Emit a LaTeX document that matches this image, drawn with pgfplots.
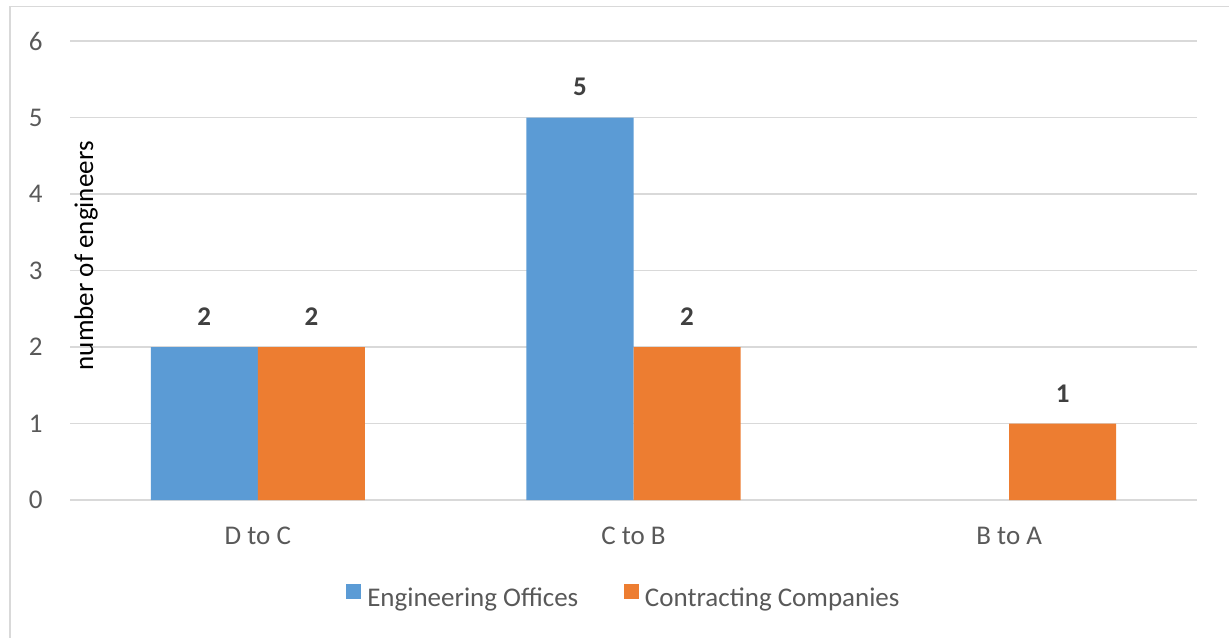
\documentclass[border=0pt]{standalone}
\usepackage{fontspec}
\setmainfont{Carlito}
\usepackage{pgfplots}
\pgfplotsset{compat=1.18}
\definecolor{cblue}{HTML}{5B9BD5}
\definecolor{corange}{HTML}{ED7D31}
\definecolor{tgray}{HTML}{595959}
\definecolor{lgray}{HTML}{D9D9D9}
\definecolor{dlab}{HTML}{404040}
\begin{document}
\begin{tikzpicture}
\useasboundingbox (-35pt,-68.5pt) rectangle (579.5pt,250pt);
\begin{axis}[
 at={(0,0)}, anchor=south west,
 scale only axis, width=563.5pt, height=229.5pt,
 ybar=0pt, bar width=0.285,
 xmin=-0.5, xmax=2.5, ymin=0, ymax=6,
 xtick={0,1,2}, xticklabels={D to C, C to B, B to A},
 ytick={0,1,2,3,4,5,6},
 axis line style={draw=none},
 major tick length=0pt,
 ymajorgrids, grid style={lgray, line width=0.75pt},
 /pgf/number format/assume math mode=true,
 tick label style={font=\fontsize{13.5}{16}\selectfont, text=tgray, inner sep=0pt},
 yticklabel style={anchor=east, xshift=-13.5pt},
 xticklabel style={anchor=north, yshift=-13.35pt},
 every axis y label/.style={at={(axis description cs:0.0142,0.532)}, rotate=90, anchor=center, font=\fontsize{13.5}{16}\selectfont},
 ylabel={number of engineers},
 nodes near coords,
 every node near coord/.append style={font=\bfseries\fontsize{13.5}{16}\selectfont, text=dlab, anchor=south, inner sep=0pt, yshift=10.5pt},
 legend columns=2,
 legend style={at={(axis description cs:0.4906,-0.2102)}, anchor=center, draw=none, fill=none, inner sep=0pt,
   nodes={inner sep=0pt, anchor=west, font=\fontsize{13.5}{16}\selectfont, text=tgray},
   /tikz/every odd column/.append style={column sep=3pt},
   /tikz/every even column/.append style={column sep=22.85pt}},
 legend image code/.code={\fill[#1] (0pt,0pt) rectangle (7.5pt,7.5pt);},
]
\addplot[fill=cblue, draw=none] coordinates {(0,2) (1,5)};
\addlegendentry{Engineering Offices}
\addplot[fill=corange, draw=none] coordinates {(0,2) (1,2) (2,1)};
\addlegendentry{Contracting Companies}
\end{axis}
\draw[lgray, line width=0.75pt] (-30pt,-70pt) -- (-30pt,246.65pt) -- (582pt,246.65pt);
\end{tikzpicture}
\end{document}
